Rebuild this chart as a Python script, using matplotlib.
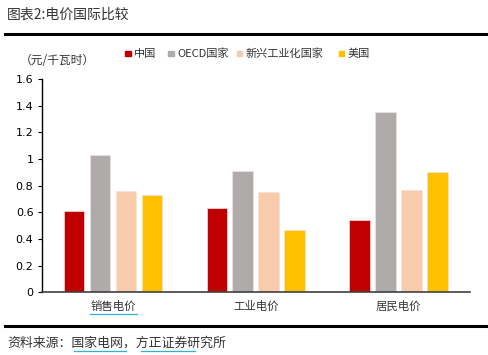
import matplotlib.pyplot as plt
import numpy as np
from matplotlib.lines import Line2D
from matplotlib.patches import Rectangle

plt.rcParams['font.family'] = ['Noto Sans CJK SC', 'DejaVu Sans']

# data
categories = ['销售电价', '工业电价', '居民电价']
series_names = ['中国', 'OECD国家', '新兴工业化国家', '美国']
china = [0.61, 0.635, 0.54]
oecd = [1.03, 0.91, 1.35]
emerging = [0.76, 0.755, 0.765]
usa = [0.73, 0.465, 0.90]
colors = ['#C00000', '#AFABAB', '#F8CBAD', '#FFC000']

W, H = 489, 355
fig = plt.figure(figsize=(W / 100, H / 100), dpi=100)
ax = fig.add_axes([0.0853, 0.1766, 0.8757, 0.6009])

x = np.arange(len(categories))
width = 0.145
step = 0.182
for i, (vals, c) in enumerate(zip([china, oecd, emerging, usa], colors)):
    ax.bar(x + (i - 1.5) * step, vals, width, color=c, edgecolor='#f4e0e0',
           linewidth=0.5, label=series_names[i])

ax.set_xlim(-0.5, 2.5)
ax.set_ylim(0, 1.6)
ax.set_yticks([0, 0.2, 0.4, 0.6, 0.8, 1.0, 1.2, 1.4, 1.6])
ax.set_yticklabels(['0', '0.2', '0.4', '0.6', '0.8', '1', '1.2', '1.4', '1.6'],
                   fontsize=8, family='DejaVu Sans')
ax.set_xticks(x)
ax.set_xticklabels(categories, fontsize=8.2, color='#333333')
ax.tick_params(axis='x', length=0, pad=6)
ax.tick_params(axis='y', length=3, width=0.8, pad=3)
for s in ['top', 'right']:
    ax.spines[s].set_visible(False)
ax.spines['left'].set_color('black')
ax.spines['bottom'].set_color('#404040')
ax.spines['left'].set_linewidth(1.0)
ax.spines['bottom'].set_linewidth(1.2)

# legend, placed by hand (pixel positions of each swatch)
legend_x = [125, 168, 237, 339]
for lx, name, c in zip(legend_x, series_names, colors):
    fig.add_artist(Rectangle((lx / W, 1 - 56 / H), 5.5 / W, 5.5 / H, color=c,
                             transform=fig.transFigure))
    fig.text((lx + 9) / W, 1 - 53.5 / H, name, fontsize=8, va='center', color='#333333')

fig.text(20 / W, 1 - 61 / H, '（元/千瓦时）', fontsize=8.5, va='center', color='#333333')

# title and rules
fig.text(7 / W, 1 - 15 / H, '图表2:电价国际比较', fontsize=10, va='center', color='#333333')
fig.add_artist(Line2D([0.01, 0.996], [0.905, 0.905], color='black', lw=2.2))
fig.add_artist(Line2D([0.01, 0.996], [0.083, 0.083], color='black', lw=2.2))
fig.text(7 / W, 1 - 343 / H, '资料来源：国家电网，方正证券研究所', fontsize=9.3, va='center',
         style='italic', color='#333333')

# cyan spell-check underlines seen in the original
for x0, x1, yy in [(90, 137, 314), (74, 126, 351), (141, 195, 351)]:
    fig.add_artist(Line2D([x0 / W, x1 / W], [1 - yy / H, 1 - yy / H], color='#2bb5d0', lw=0.9))

fig.savefig('out.png', dpi=100)
